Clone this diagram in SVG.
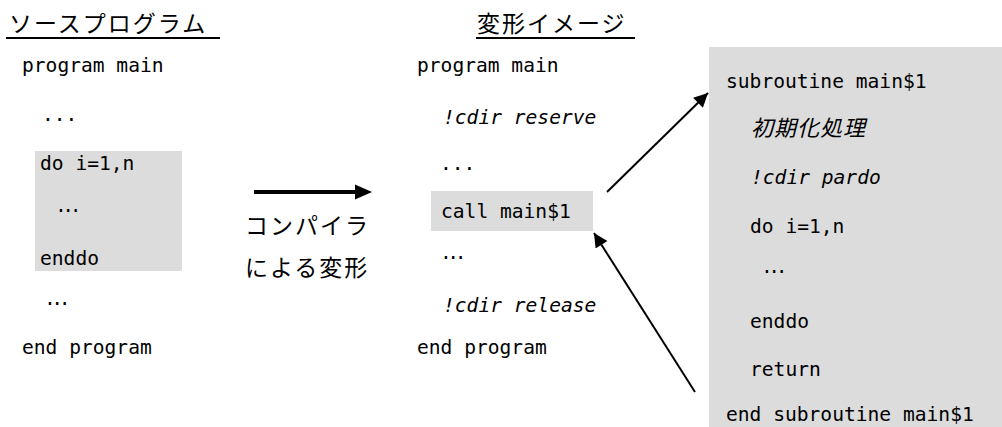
<svg xmlns="http://www.w3.org/2000/svg" width="1002" height="427" viewBox="0 0 1002 427">
<style>
.code{font-family:"DejaVu Sans Mono","Liberation Mono",monospace;font-size:19.6px;fill:#000}
.it{font-style:italic}
.jp{font-family:"Noto Sans CJK JP","Noto Sans",sans-serif;font-size:23px;fill:#000;letter-spacing:2px}
.jpi{font-family:"Noto Sans CJK JP","Noto Sans",sans-serif;font-size:22px;font-style:italic;fill:#000;letter-spacing:1px}
.dots{font-family:"Liberation Mono",monospace;font-size:19.7px;fill:#000;letter-spacing:-4.5px}
.shade{fill:#dcdcdc}
.ul{stroke:#000;stroke-width:2}
.conn{stroke:#000;stroke-width:2;fill:none}
</style>
<defs>
<marker id="ah" viewBox="0 0 10 10" refX="10" refY="5" markerWidth="8" markerHeight="7" markerUnits="strokeWidth" orient="auto">
<path d="M0,0 L10,5 L0,10 z" fill="#000"/>
</marker>
</defs>
<rect width="1002" height="427" fill="#fff"/>

<g id="source-title">
<text class="jp" x="9" y="32">ソースプログラム</text>
<line class="ul" x1="6" y1="38" x2="220" y2="38"/>
</g>
<g id="source-program">
<rect class="shade" x="35" y="151" width="147" height="120"/>
<text class="code" x="22" y="72">program main</text>
<text class="code" x="42" y="121">...</text>
<text class="code" x="40" y="170">do i=1,n</text>
<text class="dots" x="55" y="212">...</text>
<text class="code" x="40" y="265">enddo</text>
<text class="dots" x="44" y="305">...</text>
<text class="code" x="22" y="354">end program</text>
</g>

<g id="compiler-label">
<text class="jp" x="245" y="234">コンパイラ</text>
<text class="jp" x="245" y="276">による変形</text>
</g>

<g id="image-title">
<text class="jp" x="477" y="32">変形イメージ</text>
<line class="ul" x1="476" y1="38" x2="635" y2="38"/>
</g>
<g id="transformed-program">
<rect class="shade" x="431" y="191" width="162" height="40"/>
<text class="code" x="417" y="72">program main</text>
<text class="code it" x="443" y="124">!cdir reserve</text>
<text class="code" x="440" y="170">...</text>
<text class="code" x="441" y="218">call main$1</text>
<text class="dots" x="440" y="259">...</text>
<text class="code it" x="443" y="312">!cdir release</text>
<text class="code" x="417" y="354">end program</text>
</g>

<g id="subroutine">
<rect class="shade" x="709" y="47" width="293" height="380"/>
<text class="code" x="726" y="88">subroutine main$1</text>
<text class="jpi" x="751" y="136">初期化処理</text>
<text class="code it" x="751" y="184">!cdir pardo</text>
<text class="code" x="750" y="233">do i=1,n</text>
<text class="dots" x="761" y="273">...</text>
<text class="code" x="750" y="328">enddo</text>
<text class="code" x="750" y="376">return</text>
<text class="code" x="726" y="421">end subroutine main$1</text>
</g>

<g id="connectors">
<line x1="254" y1="192" x2="357" y2="192" stroke="#000" stroke-width="4"/>
<path d="M355,184.5 L372,192 L355,199.5 z" fill="#000"/>
<line class="conn" x1="607" y1="192" x2="708" y2="93" marker-end="url(#ah)"/>
<line class="conn" x1="695" y1="392" x2="594" y2="233" marker-end="url(#ah)"/>
</g>
</svg>
